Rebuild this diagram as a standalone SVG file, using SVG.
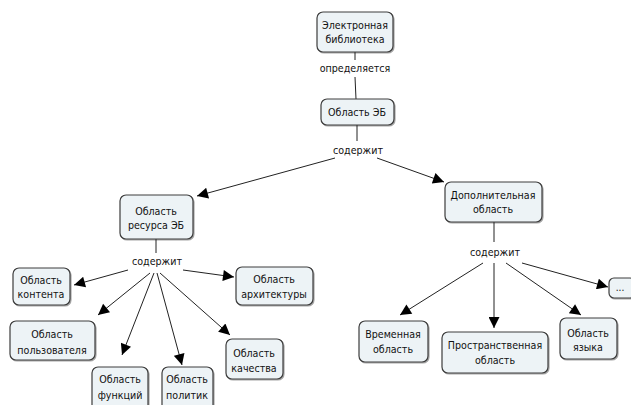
<svg xmlns="http://www.w3.org/2000/svg" width="631" height="405" viewBox="0 0 631 405">
  <style>
    .node rect { fill: #edf3f6; stroke: #3c3c3c; stroke-width: 1.2; filter: url(#shadow); }
    text { font-family: "DejaVu Sans Condensed", "DejaVu Sans", sans-serif; font-size: 10.6px; fill: #111; text-anchor: middle; dominant-baseline: central; }
    .conn line, .conn path { stroke: #222; stroke-width: 1; fill: none; }
    .arrow { marker-end: url(#head); }
  </style>
  <defs>
    <marker id="head" viewBox="0 0 10 10" refX="10" refY="5" markerWidth="13" markerHeight="11" markerUnits="userSpaceOnUse" orient="auto">
      <path d="M0,0 L10,5 L0,10 z" fill="#000"/>
    </marker>
    <filter id="shadow" x="-10%" y="-10%" width="130%" height="140%">
      <feDropShadow dx="1" dy="1" stdDeviation="0.6" flood-color="#000" flood-opacity="0.35"/>
    </filter>
  </defs>

  <rect width="631" height="405" fill="#fff"/>

  <!-- connectors -->
  <g class="conn">
    <line x1="355" y1="52" x2="355" y2="60"/>
    <line x1="355" y1="77" x2="356" y2="99"/>
    <line x1="357" y1="125" x2="357" y2="141"/>
    <line class="arrow" x1="335" y1="158" x2="197" y2="196"/>
    <line class="arrow" x1="377" y1="158" x2="444" y2="182"/>

    <line x1="156" y1="239" x2="156" y2="253"/>
    <line class="arrow" x1="128" y1="270" x2="74" y2="285"/>
    <line class="arrow" x1="150" y1="273" x2="98" y2="315"/>
    <line class="arrow" x1="154" y1="273" x2="122" y2="355"/>
    <line class="arrow" x1="157" y1="273" x2="182" y2="365"/>
    <line class="arrow" x1="160" y1="273" x2="230" y2="335"/>
    <line class="arrow" x1="183" y1="270" x2="234" y2="277"/>

    <line x1="494" y1="222" x2="494" y2="242"/>
    <line class="arrow" x1="483" y1="263" x2="400" y2="315"/>
    <line class="arrow" x1="494" y1="263" x2="494" y2="328"/>
    <line class="arrow" x1="506" y1="263" x2="581" y2="315"/>
    <line class="arrow" x1="522" y1="263" x2="608" y2="287"/>
  </g>

  <!-- link labels -->
  <g id="lbl-defines"><text x="355" y="68">определяется</text></g>
  <g id="lbl-contains-1"><text x="358" y="150">содержит</text></g>
  <g id="lbl-contains-2"><text x="157" y="261">содержит</text></g>
  <g id="lbl-contains-3"><text x="495" y="252">содержит</text></g>

  <!-- nodes -->
  <g id="n-library" class="node">
    <rect x="317" y="12" width="76" height="40" rx="6"/>
    <text x="355" y="25">Электронная</text>
    <text x="355" y="39">библиотека</text>
  </g>
  <g id="n-area-eb" class="node">
    <rect x="321" y="99" width="73" height="26" rx="6"/>
    <text x="357" y="112">Область ЭБ</text>
  </g>
  <g id="n-resource" class="node">
    <rect x="120" y="195" width="73" height="44" rx="6"/>
    <text x="156" y="211">Область</text>
    <text x="156" y="225">ресурса ЭБ</text>
  </g>
  <g id="n-extra" class="node">
    <rect x="445" y="182" width="97" height="40" rx="6"/>
    <text x="493" y="195">Дополнительная</text>
    <text x="493" y="209">область</text>
  </g>
  <g id="n-content" class="node">
    <rect x="13" y="268" width="57" height="37" rx="6"/>
    <text x="41" y="280">Область</text>
    <text x="41" y="294">контента</text>
  </g>
  <g id="n-user" class="node">
    <rect x="10" y="321" width="85" height="39" rx="6"/>
    <text x="52" y="334">Область</text>
    <text x="52" y="350">пользователя</text>
  </g>
  <g id="n-functions" class="node">
    <rect x="92" y="367" width="56" height="44" rx="6"/>
    <text x="120" y="379">Область</text>
    <text x="120" y="395">функций</text>
  </g>
  <g id="n-policies" class="node">
    <rect x="162" y="367" width="51" height="44" rx="6"/>
    <text x="187" y="379">Область</text>
    <text x="187" y="395">политик</text>
  </g>
  <g id="n-quality" class="node">
    <rect x="226" y="339" width="57" height="40" rx="6"/>
    <text x="254" y="353">Область</text>
    <text x="254" y="368">качества</text>
  </g>
  <g id="n-architecture" class="node">
    <rect x="236" y="267" width="77" height="38" rx="6"/>
    <text x="274" y="279">Область</text>
    <text x="274" y="294">архитектуры</text>
  </g>
  <g id="n-time" class="node">
    <rect x="359" y="321" width="69" height="41" rx="6"/>
    <text x="393" y="334">Временная</text>
    <text x="393" y="349">область</text>
  </g>
  <g id="n-space" class="node">
    <rect x="442" y="332" width="106" height="41" rx="6"/>
    <text x="495" y="345">Пространственная</text>
    <text x="495" y="360">область</text>
  </g>
  <g id="n-language" class="node">
    <rect x="560" y="318" width="57" height="41" rx="6"/>
    <text x="588" y="333">Область</text>
    <text x="588" y="347">языка</text>
  </g>
  <g id="n-more" class="node">
    <rect x="609" y="278" width="26" height="20" rx="5"/>
    <text x="620" y="287" style="font-size:10px">...</text>
  </g>
</svg>
